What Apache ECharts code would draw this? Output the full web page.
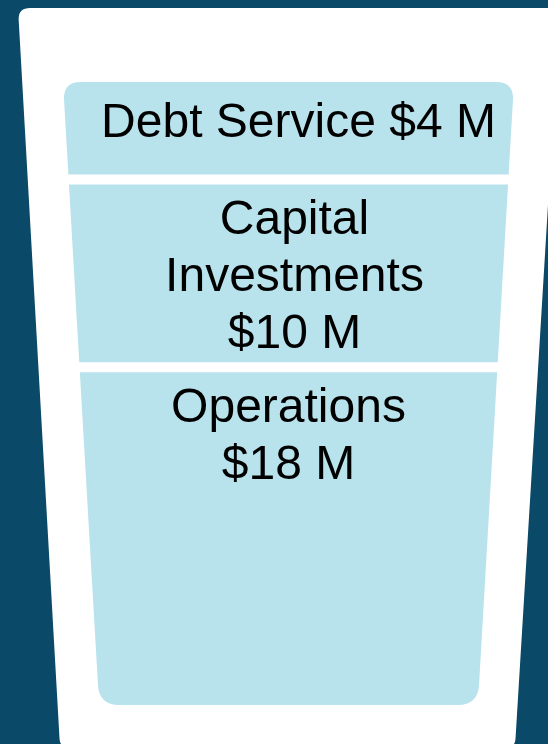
<!DOCTYPE html>
<html>
<head>
<meta charset="utf-8">
<script src="https://cdn.jsdelivr.net/npm/echarts@6/dist/echarts.min.js"></script>
<style>
  html, body { margin: 0; padding: 0; background: #0a4968; }
  #chart { width: 548px; height: 744px; }
</style>
</head>
<body>
<div id="chart"></div>
<script>
// budget layers, bottom to top ($ M)
const layerNames = ['Operations', 'Capital Investments', 'Debt Service'];
const layerValues = [18, 10, 4];
const layerLabels = ['Operations\n$18 M', 'Capital\nInvestments\n$10 M', 'Debt Service $4 M'];

// label nudges in px, same order as layers
const labelNudge = [[0, 0], [6, 0], [10, 5]];

const gap = 10;       // white line between layers
const taper = 0.058;  // glass side slope
const fillColor = '#b8e3ec';

// cumulative extents of each layer
let acc = 0;
const layerData = layerValues.map((v, i) => {
  const item = [0, acc, acc + v, i];
  acc += v;
  return item;
});

const towards = (p, q, r) => {
  const dx = q[0] - p[0], dy = q[1] - p[1];
  const len = Math.sqrt(dx * dx + dy * dy) || 1;
  return [p[0] + dx / len * r, p[1] + dy / len * r];
};

// polygon path with rounded corners
const roundedPath = (pts, radii) => {
  const n = pts.length;
  let d = '';
  for (let k = 0; k < n; k++) {
    const p = pts[k];
    const a = towards(p, pts[(k + n - 1) % n], radii[k]);
    const b = towards(p, pts[(k + 1) % n], radii[k]);
    d += (k === 0 ? 'M' : 'L') + a[0] + ' ' + a[1] + ' Q' + p[0] + ' ' + p[1] + ' ' + b[0] + ' ' + b[1] + ' ';
  }
  return d + 'Z';
};

const chart = echarts.init(document.getElementById('chart'));

chart.setOption({
  backgroundColor: '#0a4968',
  animation: false,
  grid: { left: 63, right: 34, top: 82, bottom: 39 },
  xAxis: { type: 'value', min: -1, max: 1, show: false },
  yAxis: { type: 'value', min: 0, max: 33.2, show: false },
  series: [
    {
      // the glass
      type: 'custom',
      z: 1,
      silent: true,
      data: [[0]],
      renderItem: () => {
        const pts = [[18, 8], [560, 8], [515, 747], [60, 747]];
        return {
          type: 'path',
          shape: { pathData: roundedPath(pts, [12, 12, 8, 8]) },
          style: { fill: '#ffffff' }
        };
      }
    },
    {
      type: 'custom',
      z: 5,
      data: layerData,
      encode: { x: 0, y: [1, 2] },
      renderItem: (params, api) => {
        const i = params.dataIndex;
        const cs = params.coordSys;
        const isTop = i === layerValues.length - 1;
        const isBottom = i === 0;
        const yB = api.coord([0, api.value(1)])[1] - (isBottom ? 0 : gap / 2);
        const yT = isTop ? cs.y : api.coord([0, api.value(2)])[1] + gap / 2;
        const cx = cs.x + cs.width / 2;
        const half = y => cs.width / 2 - (y - cs.y) * taper;
        const pts = [
          [cx - half(yT), yT], [cx + half(yT), yT],
          [cx + half(yB), yB], [cx - half(yB), yB]
        ];
        const rt = isTop ? 18 : 0;
        const rb = isBottom ? 20 : 0;
        return {
          type: 'group',
          children: [
            {
              type: 'path',
              shape: { pathData: roundedPath(pts, [rt, rt, rb, rb]) },
              style: { fill: fillColor }
            },
            {
              type: 'text',
              style: {
                text: layerLabels[i],
                x: cx + labelNudge[i][0],
                y: yT + 8 + labelNudge[i][1],
                align: 'center',
                textAlign: 'center',
                verticalAlign: 'top',
                textVerticalAlign: 'top',
                fontFamily: 'Liberation Sans, Arial, sans-serif',
                fontSize: 48,
                lineHeight: 57,
                fill: '#000000'
              }
            }
          ]
        };
      }
    }
  ]
});

window.addEventListener('resize', () => chart.resize());
</script>
</body>
</html>
